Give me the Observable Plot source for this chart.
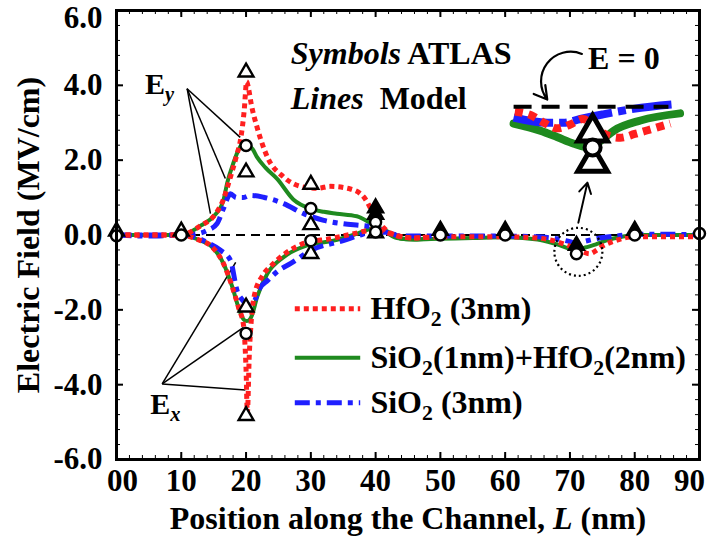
<!DOCTYPE html>
<html><head><meta charset="utf-8">
<script src="https://cdn.jsdelivr.net/npm/d3@7"></script>
<script src="https://cdn.jsdelivr.net/npm/@observablehq/plot@0.6"></script>
<style>body{margin:0;background:#fff;}</style>
</head><body><div id="chart"></div>
<script>
// ---------- data ----------
// HfO2 (3nm) model lines
const hfEyX = [0,5,10,11.4,13,15,16.5,17.5,18.5,19.2,19.7,20.1,20.4,20.8,21.7,23.3,25.8,28.9,31,33,36.1,38.2,39.7,41.2,43,46,50,55,60,65,68,70,72,73,74,75,77,80,85,90];
const hfEyY = [0,0,0,0.08,0.25,0.5,0.95,1.5,2.1,2.6,3.3,4.1,3.9,3.5,2.88,2.08,1.55,1.28,1.25,1.3,1.23,1.01,0.57,0.2,0,-0.08,-0.05,-0.05,-0.05,-0.08,-0.18,-0.3,-0.45,-0.5,-0.42,-0.3,-0.15,-0.05,-0.05,-0.05];
const hfExX = [0,5,10,11.4,13,14.5,16.5,17.9,18.9,19.6,20.0,20.2,20.5,20.8,21.3,22.5,24,26,29,33,37,40,42,44,46,48];
const hfExY = [0,0,0,-0.05,-0.15,-0.28,-0.76,-1.4,-1.97,-2.4,-3.6,-4.75,-3.2,-2.3,-1.6,-1.1,-0.8,-0.5,-0.22,-0.1,0.05,0.15,0.05,-0.05,-0.08,-0.05];
// SiO2(1nm)+HfO2(2nm)
const stEyX = [0,5,10,11.4,13,15,16.5,17.1,18,18.9,19.6,20.2,21,21.7,23,24.8,27.3,30,32,34,37.1,39.2,41.2,43.3,46,50,55,60,65,68,70.5,72,74,76,78,80,85,90];
const stEyY = [0,0,0,0.08,0.25,0.5,0.92,1.4,1.9,2.3,2.45,2.4,2.3,2.08,1.8,1.5,0.95,0.7,0.62,0.57,0.5,0.32,0.12,-0.08,-0.12,-0.1,-0.08,-0.06,-0.12,-0.25,-0.38,-0.35,-0.25,-0.12,-0.05,0,0,0];
const stExX = [0,5,10,11.4,13,14.5,16.5,17.9,18.9,19.6,20.1,20.6,20.9,21.7,23.3,25.8,29.4,33.5,37.1,40.2,42.3,44,46,48];
const stExY = [0,0,0,-0.05,-0.15,-0.28,-0.76,-1.4,-1.97,-2.25,-2.3,-2.25,-2.15,-1.66,-1.03,-0.59,-0.28,-0.15,0.03,0.2,0.05,-0.1,-0.12,-0.1];
// SiO2 (3nm)
const siEyX = [0,5,10,12,14,15.5,16.5,17.6,18.5,19.5,20.7,22.7,25.8,28.9,32,35,38,40,42,44,50,55,60,65,68,70,71,72,74,77,80,85,90];
const siEyY = [0,0,0,0.02,0.12,0.3,0.7,1.1,1.0,1.0,1.06,1.01,0.84,0.57,0.39,0.3,0.25,0.2,0.05,-0.03,-0.03,-0.03,-0.03,-0.05,-0.1,-0.18,-0.22,-0.18,-0.1,-0.03,0.02,0.02,0];
const siExX = [0,5,10,12,14,16,17.6,18.6,19.5,20.3,21,22.2,23.3,25,26.9,30,35,38,40,42,44];
const siExY = [0,-0.03,0,-0.05,-0.2,-0.4,-0.68,-1.48,-1.75,-1.88,-1.84,-1.4,-1.22,-0.95,-0.76,-0.41,-0.15,0.02,0.1,0.05,-0.03];

// ATLAS symbols
const triX = [0,10,20,20,20,20,30,30,30,40];
const triY = [0.1,0.1,4.35,1.68,-1.93,-4.83,1.35,0.27,-0.5,0.05];
const triStackX = [40,40,50,60,71,80];
const triStackY = [0.72,0.55,0.12,0.12,-0.28,0.12];
const circX = [0,10,20,20,30,30,40,40,50,60,71,80,90];
const circY = [-0.02,0,2.39,-2.63,0.71,-0.15,0.34,0.08,0,0,-0.5,0,0.04];

// magnified inset near L = 71 nm
const insetZeroX = [61.3, 85.2];
const insetZeroY = [3.43, 3.43];
const insetStX = [61.3,65.4,68,70.6,73.1,75,76.8,80.9,87];
const insetStY = [2.98,2.79,2.62,2.44,2.34,2.55,2.79,3.06,3.25];
const insetSiX = [61.3,66.5,69,71.6,75,79.8,86.6];
const insetSiY = [3.14,3.0,3.0,3.1,3.22,3.37,3.5];
const insetHfX = [61.5,64,66,68,70,72,74,76,77.8,80,82,85.5];
const insetHfY = [3.3,3.2,3.0,2.85,2.95,3.1,2.85,2.65,2.6,2.7,2.8,2.98];
const insetTriX = [73.5, 73.5];
const insetTriY = [2.74, 1.93];
const insetCircX = [73.5];
const insetCircY = [2.34];

// annotation pointers
const eyFromX = [10.9,10.9,10.9], eyFromY = [3.91,3.91,3.91];
const eyToX = [19.1,16.8,14.5], eyToY = [2.61,1.51,0.57];
const exFromX = [7.05,7.05,7.05], exFromY = [-3.98,-3.98,-3.98];
const exToX = [18.4,19.6,19.9], exToY = [-0.73,-2.47,-4.14];
const highlightX = [71.3], highlightY = [-0.45];

// text
const legendLabels = ["HfO_2 (3nm)", "SiO_2(1nm)+HfO_2(2nm)", "SiO_2 (3nm)"];
const xTicks = [0,10,20,30,40,50,60,70,80,90];
const yTicks = [-6,-4,-2,0,2,4,6];
const xTitle = "Position along the Channel, *L* (nm)";
const yTitle = "Electric Field (MV/cm)";

// ---------- drawing ----------
const pts = (xs, ys) => xs.map((x, i) => ({x, y: ys[i]}));
const RED = "#ff1f1f", GREEN = "#1f8a1f", BLUE = "#1f1fff";
const serif = '"Liberation Serif", "Times New Roman", serif';
const FS = 31;
const W = 709, H = 556, ML = 116, MR = 10, MT = 10, MB = 97;
const FW = W - ML - MR, FH = H - MT - MB;

const hfStyle = {stroke: RED, strokeWidth: 5, strokeDasharray: "5,4", strokeLinecap: "butt"};
const stStyle = {stroke: GREEN, strokeWidth: 4};
const siStyle = {stroke: BLUE, strokeWidth: 5, strokeDasharray: "15,6,5,6", strokeLinecap: "butt"};
const lineOpts = {x: "x", y: "y", curve: "monotone-x"};

const minorX = d3.range(0, 91, 2);
const minorY = d3.range(-6, 6.01, 0.4).map(v => +v.toFixed(1));

const chart = Plot.plot({
  width: W, height: H,
  marginLeft: ML, marginRight: MR, marginTop: MT, marginBottom: MB,
  style: {fontFamily: serif, fontWeight: "bold", background: "white"},
  x: {domain: [0, 90]},
  y: {domain: [-6, 6]},
  marks: [
    // inward ticks on all four sides
    Plot.ruleX(xTicks, {x: d => d, insetTop: FH - 7, stroke: "black", strokeWidth: 2}),
    Plot.ruleX(minorX, {x: d => d, insetTop: FH - 4, stroke: "black", strokeWidth: 1}),
    Plot.ruleX(xTicks, {x: d => d, insetBottom: FH - 7, stroke: "black", strokeWidth: 2}),
    Plot.ruleX(minorX, {x: d => d, insetBottom: FH - 4, stroke: "black", strokeWidth: 1}),
    Plot.ruleY(yTicks, {y: d => d, insetRight: FW - 7, stroke: "black", strokeWidth: 2}),
    Plot.ruleY(minorY, {y: d => d, insetRight: FW - 4, stroke: "black", strokeWidth: 1}),
    Plot.ruleY(yTicks, {y: d => d, insetLeft: FW - 7, stroke: "black", strokeWidth: 2}),
    Plot.ruleY(minorY, {y: d => d, insetLeft: FW - 4, stroke: "black", strokeWidth: 1}),
    // tick labels
    Plot.axisX({anchor: "bottom", ticks: xTicks.slice(1, -1), tickSize: 0, tickPadding: 9, fontSize: FS, tickFormat: d => String(d), label: null}),
    Plot.axisX({anchor: "bottom", ticks: xTicks.slice(0, 1), tickSize: 0, tickPadding: 9, fontSize: FS, tickFormat: d => "00", dx: 6, label: null}),
    Plot.axisX({anchor: "bottom", ticks: xTicks.slice(-1), tickSize: 0, tickPadding: 9, fontSize: FS, tickFormat: d => String(d), dx: -10, label: null}),
    Plot.axisY({anchor: "left", ticks: yTicks.slice(0, -1), tickSize: 0, tickPadding: 14, fontSize: FS, tickFormat: d => d.toFixed(1), label: null}),
    Plot.axisY({anchor: "left", ticks: yTicks.slice(-1), tickSize: 0, tickPadding: 14, fontSize: FS, tickFormat: d => d.toFixed(1), dy: 8, label: null}),
    // axis titles
    Plot.text([xTitle], {frameAnchor: "bottom", dy: 69, fontSize: 32, text: d => d}),
    Plot.text([yTitle], {frameAnchor: "left", textAnchor: "middle", dx: -88, rotate: -90, fontSize: 32, text: d => d}),
    // zero reference
    Plot.ruleY([0], {stroke: "black", strokeWidth: 2, strokeDasharray: "9,6"}),
    // pointer lines
    Plot.link(eyToX, {x1: (d, i) => eyFromX[i], y1: (d, i) => eyFromY[i], x2: (d, i) => eyToX[i], y2: (d, i) => eyToY[i], stroke: "black", strokeWidth: 1.5}),
    Plot.link(exToX, {x1: (d, i) => exFromX[i], y1: (d, i) => exFromY[i], x2: (d, i) => exToX[i], y2: (d, i) => exToY[i], stroke: "black", strokeWidth: 1.5}),
    // model lines
    Plot.line(pts(stExX, stExY), {...lineOpts, ...stStyle}),
    Plot.line(pts(stEyX, stEyY), {...lineOpts, ...stStyle}),
    Plot.line(pts(siExX, siExY), {...lineOpts, ...siStyle}),
    Plot.line(pts(siEyX, siEyY), {...lineOpts, ...siStyle}),
    Plot.line(pts(hfExX, hfExY), {...lineOpts, ...hfStyle}),
    Plot.line(pts(hfEyX, hfEyY), {...lineOpts, ...hfStyle}),
    // ATLAS symbols
    Plot.dot(pts(triStackX, triStackY), {x: "x", y: "y", symbol: "triangle", r: 5.5, fill: "black", stroke: "black", strokeWidth: 2.5}),
    Plot.dot(pts(triX, triY), {x: "x", y: "y", symbol: "triangle", r: 5.5, fill: "white", stroke: "black", strokeWidth: 2.4}),
    Plot.dot(pts(circX, circY), {x: "x", y: "y", r: 5.5, fill: "white", stroke: "black", strokeWidth: 2.4}),
    // highlight + arrow to inset
    Plot.dot(pts(highlightX, highlightY), {x: "x", y: "y", r: 24, fill: "none", stroke: "black", strokeWidth: 2.2, strokeDasharray: "2,3"}),
    Plot.arrow([0], {x1: 71.3, y1: 0.33, x2: 72.7, y2: 1.4, stroke: "black", strokeWidth: 2, headLength: 9}),
    // inset
    Plot.line(pts(insetStX, insetStY), {...lineOpts, stroke: GREEN, strokeWidth: 8}),
    Plot.line(pts(insetSiX, insetSiY), {...lineOpts, stroke: BLUE, strokeWidth: 8, strokeDasharray: "40,6,8,6", strokeLinecap: "butt"}),
    Plot.line(pts(insetHfX, insetHfY), {...lineOpts, stroke: RED, strokeWidth: 8, strokeDasharray: "8,6", strokeLinecap: "butt"}),
    Plot.line(pts(insetZeroX, insetZeroY), {x: "x", y: "y", stroke: "black", strokeWidth: 4, strokeDasharray: "18,10", strokeLinecap: "butt"}),
    Plot.dot(pts(insetTriX, insetTriY), {x: "x", y: "y", symbol: "triangle", r: 11, fill: "white", stroke: "black", strokeWidth: 5}),
    Plot.dot(pts(insetCircX, insetCircY), {x: "x", y: "y", r: 8, fill: "white", stroke: "black", strokeWidth: 4}),
    Plot.arrow([0], {x1: 71.85, y1: 4.84, x2: 66.5, y2: 3.62, bend: -75, stroke: "black", strokeWidth: 2.2, headLength: 10}),
    Plot.text(["E = 0"], {x: 72.8, y: 4.72, textAnchor: "start", fontSize: 32, text: d => d}),
    // annotation text
    Plot.text(["*Symbols* ATLAS"], {x: 26.9, y: 4.85, textAnchor: "start", fontSize: 32, text: d => d}),
    Plot.text(["*Lines*  Model"], {x: 26.9, y: 3.65, textAnchor: "start", fontSize: 32, text: d => d}),
    Plot.text(["E_y"], {x: 4.4, y: 4.02, textAnchor: "start", fontSize: 30, text: d => d}),
    Plot.text(["E_x"], {x: 5.2, y: -4.53, textAnchor: "start", fontSize: 30, text: d => d}),
    // legend
    Plot.ruleY([-1.97], {x1: 27.6, x2: 37.7, ...hfStyle}),
    Plot.ruleY([-3.28], {x1: 27.6, x2: 37.7, ...stStyle}),
    Plot.ruleY([-4.48], {x1: 27.6, x2: 37.7, ...siStyle}),
    Plot.text(legendLabels.slice(0, 1), {x: 39.2, y: -1.97, textAnchor: "start", fontSize: 32, text: d => d}),
    Plot.text(legendLabels.slice(1, 2), {x: 39.2, y: -3.28, textAnchor: "start", fontSize: 32, text: d => d}),
    Plot.text(legendLabels.slice(2, 3), {x: 39.2, y: -4.48, textAnchor: "start", fontSize: 32, text: d => d}),
    Plot.frame({stroke: "black", strokeWidth: 3})
  ]
});
document.getElementById("chart").appendChild(chart);

// rich text: *italic*, _c subscript (letters italic)
const NS = "http://www.w3.org/2000/svg";
chart.querySelectorAll("text").forEach(t => {
  const s = t.textContent;
  if (!/[*_]/.test(s)) return;
  const fs = parseFloat(getComputedStyle(t).fontSize) || 30;
  while (t.firstChild) t.removeChild(t.firstChild);
  let italic = false, shift = 0, buf = "";
  const flush = () => {
    if (!buf) return;
    const ts = document.createElementNS(NS, "tspan");
    ts.textContent = buf;
    if (italic) ts.setAttribute("font-style", "italic");
    if (shift) { ts.setAttribute("dy", -shift); shift = 0; }
    t.appendChild(ts);
    buf = "";
  };
  for (let i = 0; i < s.length; i++) {
    const c = s[i];
    if (c === "*") { flush(); italic = !italic; continue; }
    if (c === "_") {
      flush();
      const ch = s[++i];
      const ts = document.createElementNS(NS, "tspan");
      ts.textContent = ch;
      ts.setAttribute("font-size", fs * 0.68);
      ts.setAttribute("dy", fs * 0.22);
      if (/[a-z]/i.test(ch)) ts.setAttribute("font-style", "italic");
      t.appendChild(ts);
      shift = fs * 0.22;
      continue;
    }
    buf += c;
  }
  flush();
});
</script></body></html>
